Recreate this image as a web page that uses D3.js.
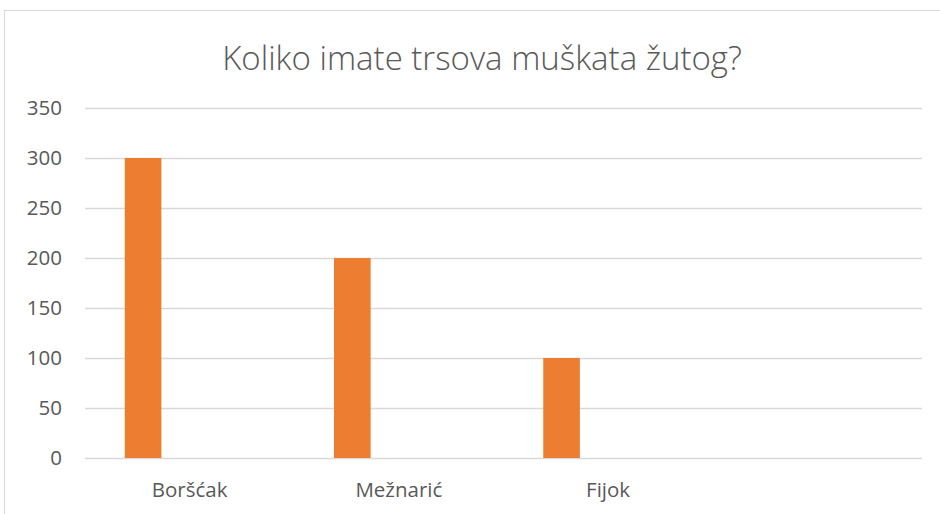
<!DOCTYPE html>
<html>
<head>
<meta charset="utf-8">
<script src="https://cdn.jsdelivr.net/npm/d3@7"></script>
<style>
  body { margin: 0; background: #fff; }
  text { font-family: "Open Sans", "Liberation Sans", sans-serif; fill: #595959; }
</style>
</head>
<body>
<div id="chart"></div>
<script>
// chart data
var categories = ["Boršćak", "Mežnarić", "Fijok", ""];
var values = [300, 200, 100, null];
var yTicks = [0, 50, 100, 150, 200, 250, 300, 350];
var title = "Koliko imate trsova muškata žutog?";

var W = 940, H = 514;
var margin = {top: 108, right: 18, bottom: 56, left: 85},
    width = 922 - margin.left,
    height = 458 - margin.top;

var svg = d3.select("#chart")
  .append("svg")
    .attr("width", W)
    .attr("height", H);

// outer chart border
svg.append("rect")
    .attr("x", 4.5)
    .attr("y", 10.5)
    .attr("width", W + 10)
    .attr("height", H + 10)
    .attr("fill", "none")
    .attr("stroke", "#d9d9d9")
    .attr("stroke-width", 1);

svg.append("text")
    .attr("x", 482)
    .attr("y", 70)
    .attr("text-anchor", "middle")
    .style("font-size", "33px")
    .style("font-weight", 300)
    .text(title);

var g = svg.append("g")
    .attr("transform", "translate(" + margin.left + "," + margin.top + ")");

var x = d3.scaleBand()
    .domain(categories.map(function(d, i) { return i; }))
    .range([0, width]);

var y = d3.scaleLinear()
    .domain([0, 350])
    .range([height, 0]);

// gridlines
g.append("g")
  .selectAll("line")
  .data(yTicks)
  .enter()
  .append("line")
    .attr("x1", 0)
    .attr("x2", width)
    .attr("y1", function(d) { return Math.round(y(d)) + 0.5; })
    .attr("y2", function(d) { return Math.round(y(d)) + 0.5; })
    .attr("stroke", "#d9d9d9")
    .attr("stroke-width", 1.3);

// y axis labels
var yAxis = g.append("g")
    .call(d3.axisLeft(y).tickValues(yTicks).tickSize(0).tickPadding(23));
yAxis.select(".domain").remove();
yAxis.selectAll("text")
    .style("font-size", "20.5px")
    .attr("font-family", null);

// bars
var bw = x.bandwidth();
g.append("g")
  .selectAll("rect")
  .data(values.map(function(v, i) { return {i: i, v: v}; }).filter(function(d) { return d.v != null; }))
  .enter()
  .append("rect")
    .attr("x", function(d) { return x(d.i) + bw * 0.19; })
    .attr("width", bw * 0.175)
    .attr("y", function(d) { return y(d.v); })
    .attr("height", function(d) { return height - y(d.v); })
    .attr("fill", "#ed7d31");

// category labels
g.append("g")
  .selectAll("text")
  .data(categories)
  .enter()
  .append("text")
    .attr("x", function(d, i) { return x(i) + bw / 2; })
    .attr("y", height + 39)
    .attr("text-anchor", "middle")
    .style("font-size", "20.5px")
    .text(function(d) { return d; });
</script>
</body>
</html>
